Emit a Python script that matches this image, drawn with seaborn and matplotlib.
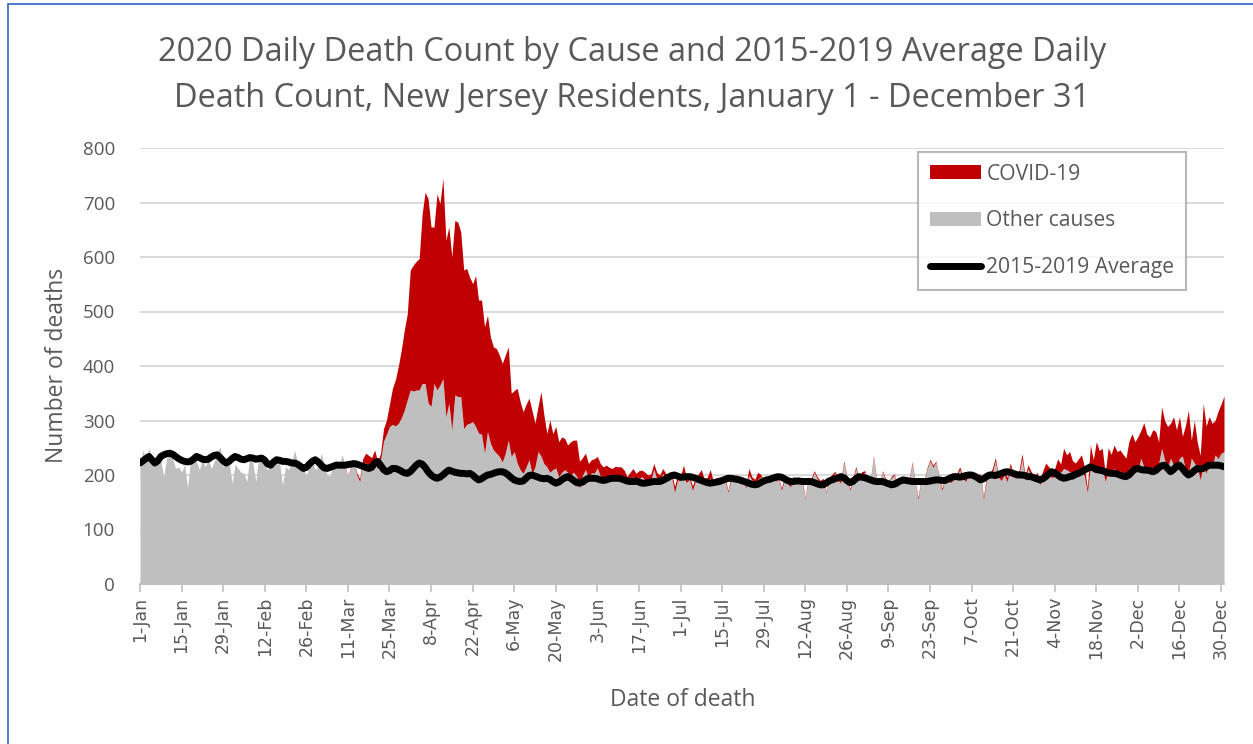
import numpy as np
import pandas as pd
import matplotlib
matplotlib.use("Agg")
import matplotlib.pyplot as plt
import seaborn as sns
from matplotlib.patches import Patch
from matplotlib.lines import Line2D

# ---------------- data ----------------
other_jan = [215, 246, 228, 249, 230, 222, 232, 225, 197, 232, 237, 230, 212, 215, 205, 220,
             176, 228, 237, 225, 210, 228, 215, 230, 212, 225, 240, 252, 215, 222, 225]
other_feb = [185, 220, 212, 205, 203, 188, 237, 222, 188, 235, 228, 215, 210, 218, 230, 220,
             222, 182, 215, 210, 220, 246, 225, 215, 212, 200, 215, 228, 210]
other_mar = [215, 240, 220, 200, 198, 222, 228, 215, 237, 218, 197, 215, 225, 200, 188, 222,
             222, 218, 215, 220, 212, 228, 262, 275, 289, 293, 290, 295, 305, 319, 338]
other_apr = [356, 354, 356, 356, 368, 368, 332, 326, 368, 356, 365, 377, 307, 332, 283, 347,
             344, 344, 285, 293, 295, 298, 289, 277, 275, 240, 280, 258, 246, 240]
other_may = [234, 224, 240, 264, 234, 243, 222, 210, 203, 215, 228, 203, 215, 243, 235, 221,
             215, 205, 210, 213, 197, 205, 210, 205, 200, 205, 198, 176, 200, 210, 195]
other_jun = [204, 204, 213, 198, 196, 196, 196, 192, 199, 196, 199, 191, 183, 189, 197, 190,
             193, 197, 191, 189, 189, 211, 193, 189, 203, 191, 190, 197, 168, 191]
other_jul = [190, 198, 186, 192, 172, 188, 193, 196, 185, 190, 194, 184, 188, 190, 186, 190,
             168, 192, 188, 195, 183, 189, 176, 200, 191, 187, 192, 197, 185, 190, 194]
other_aug = [196, 189, 192, 172, 190, 185, 178, 194, 188, 191, 186, 155, 192, 189, 205, 193,
             187, 190, 167, 191, 196, 204, 190, 185, 223, 194, 172, 187, 212, 192, 201]
other_sep = [205, 186, 193, 232, 188, 182, 206, 190, 184, 195, 200, 178, 188, 194, 186, 190,
             221, 188, 155, 192, 188, 210, 226, 214, 224, 196, 172, 190, 194, 186]
other_oct = [192, 200, 210, 195, 188, 201, 196, 193, 190, 199, 155, 190, 198, 205, 226, 196,
             190, 200, 188, 216, 197, 194, 202, 230, 190, 212, 198, 188, 195, 182, 200]
other_nov = [200, 203, 195, 198, 207, 205, 212, 210, 206, 200, 205, 212, 208, 198, 168, 215,
             205, 212, 210, 214, 188, 210, 205, 212, 206, 208, 203, 198, 212, 215]
other_dec = [212, 208, 231, 215, 205, 210, 208, 212, 222, 249, 228, 215, 231, 218, 213, 231,
             235, 210, 203, 231, 222, 215, 191, 222, 203, 226, 215, 237, 230, 240, 243]

covid_jan = [0, 0, 0, 0, 0, 0, 0, 0, 0, 0, 0, 0, 0, 0, 0, 0,
             0, 0, 0, 0, 0, 0, 0, 0, 0, 0, 0, 0, 0, 0, 0]
covid_feb = [0, 0, 0, 0, 0, 0, 0, 0, 0, 0, 0, 0, 0, 0, 0, 0,
             0, 0, 0, 0, 0, 0, 0, 0, 0, 0, 0, 0, 0]
covid_mar = [0, 0, 0, 0, 0, 0, 0, 0, 0, 1, 1, 2, 2, 4, 5, 8,
             18, 18, 17, 26, 13, 12, 23, 26, 41, 66, 85, 105, 125, 147, 158]
covid_apr = [220, 231, 236, 241, 311, 351, 375, 329, 287, 360, 333, 367, 324, 323, 317, 320,
             320, 302, 291, 286, 268, 253, 277, 244, 246, 232, 213, 195, 189, 192]
covid_may = [186, 181, 180, 171, 116, 112, 137, 125, 113, 115, 113, 115, 80, 82, 118, 89,
             61, 96, 66, 76, 64, 65, 57, 50, 61, 59, 66, 49, 32, 30, 26]
covid_jun = [24, 26, 21, 23, 19, 22, 18, 20, 17, 19, 16, 18, 14, 16, 15, 13,
             15, 12, 14, 11, 13, 10, 12, 11, 9, 12, 10, 8, 11, 9]
covid_jul = [8, 20, 9, 7, 8, 6, 9, 14, 7, 6, 16, 5, 7, 6, 8, 5,
             3, 6, 5, 6, 4, 7, 3, 12, 6, 5, 13, 4, 5, 4, 6]
covid_aug = [4, 5, 3, 4, 6, 3, 5, 4, 3, 5, 4, 3, 4, 5, 3, 4,
             3, 4, 2, 4, 5, 3, 4, 6, 3, 4, 3, 5, 4, 3, 5]
covid_sep = [3, 4, 2, 3, 4, 3, 2, 4, 3, 3, 2, 4, 3, 2, 4, 3,
             3, 2, 4, 3, 2, 3, 3, 4, 2, 3, 4, 3, 2, 4]
covid_oct = [4, 3, 5, 4, 6, 4, 5, 5, 6, 4, 5, 6, 5, 7, 6, 5,
             7, 6, 8, 6, 7, 8, 7, 9, 8, 7, 9, 8, 10, 9, 8]
covid_nov = [22, 12, 14, 14, 23, 15, 37, 27, 37, 26, 17, 18, 29, 17, 8, 40,
             23, 49, 35, 35, 15, 40, 33, 43, 37, 38, 35, 33, 50, 61]
covid_dec = [49, 62, 51, 81, 70, 60, 75, 68, 39, 76, 72, 74, 64, 89, 70, 76,
             36, 80, 116, 33, 78, 45, 45, 109, 87, 81, 80, 63, 87, 90, 102]

avg_jan = [222, 226, 230, 234, 228, 222, 226, 234, 237, 239, 240, 238, 234, 230, 227, 225,
           224, 225, 229, 234, 232, 229, 228, 229, 233, 236, 237, 232, 226, 222, 225]
avg_feb = [230, 234, 232, 229, 228, 230, 232, 231, 229, 230, 231, 227, 220, 218, 224, 228,
           227, 225, 225, 224, 222, 222, 220, 216, 212, 214, 220, 225, 228]
avg_mar = [224, 218, 213, 212, 214, 216, 218, 218, 218, 218, 219, 220, 221, 220, 218, 216,
           214, 212, 214, 222, 225, 218, 210, 206, 208, 212, 212, 210, 207, 204, 203]
avg_apr = [206, 212, 218, 222, 220, 214, 206, 200, 196, 194, 196, 200, 205, 209, 207, 205,
           204, 203, 203, 202, 203, 200, 195, 191, 193, 197, 200, 201, 203, 205]
avg_may = [206, 206, 204, 200, 195, 191, 189, 188, 189, 194, 199, 200, 198, 196, 194, 193,
           194, 192, 188, 185, 187, 191, 195, 197, 194, 190, 186, 185, 187, 191, 194]
avg_jun = [194, 194, 193, 191, 190, 191, 193, 194, 194, 194, 193, 191, 189, 188, 188, 189,
           187, 185, 185, 186, 187, 188, 188, 188, 190, 193, 196, 199, 200, 198]
avg_jul = [196, 196, 197, 197, 196, 194, 192, 190, 188, 186, 185, 186, 187, 188, 190, 192,
           194, 194, 193, 192, 191, 189, 187, 185, 183, 182, 183, 186, 189, 191, 192]
avg_aug = [194, 196, 197, 196, 193, 190, 188, 188, 189, 189, 188, 188, 188, 188, 186, 184,
           182, 182, 185, 189, 191, 193, 195, 197, 195, 190, 186, 188, 193, 197, 196]
avg_sep = [195, 193, 191, 189, 188, 188, 188, 186, 184, 182, 183, 186, 189, 191, 190, 189,
           188, 188, 188, 188, 188, 188, 189, 190, 191, 191, 190, 190, 192, 195]
avg_oct = [197, 197, 196, 197, 199, 200, 200, 198, 195, 191, 193, 197, 200, 200, 199, 201,
           203, 205, 206, 205, 203, 201, 200, 200, 199, 197, 197, 195, 193, 191, 193]
avg_nov = [197, 202, 206, 204, 200, 196, 194, 195, 197, 198, 201, 203, 206, 209, 212, 215,
           213, 210, 209, 208, 206, 204, 203, 203, 202, 200, 198, 197, 200, 206]
avg_dec = [211, 212, 210, 209, 209, 208, 206, 208, 213, 217, 218, 212, 206, 210, 216, 218,
           212, 205, 200, 203, 208, 212, 211, 212, 215, 218, 218, 218, 218, 217, 215]

tick_labels = ["1-Jan", "15-Jan", "29-Jan", "12-Feb", "26-Feb", "11-Mar", "25-Mar", "8-Apr",
               "22-Apr", "6-May", "20-May", "3-Jun", "17-Jun", "1-Jul", "15-Jul", "29-Jul",
               "12-Aug", "26-Aug", "9-Sep", "23-Sep", "7-Oct", "21-Oct", "4-Nov", "18-Nov",
               "2-Dec", "16-Dec", "30-Dec"]

series_names = ["COVID-19", "Other causes", "2015-2019 Average"]
title = ("2020 Daily Death Count by Cause and 2015-2019 Average Daily\n"
         "Death Count, New Jersey Residents, January 1 - December 31")

# ---------------- assemble ----------------
other = sum([other_jan, other_feb, other_mar, other_apr, other_may, other_jun, other_jul,
             other_aug, other_sep, other_oct, other_nov, other_dec], [])
covid = sum([covid_jan, covid_feb, covid_mar, covid_apr, covid_may, covid_jun, covid_jul,
             covid_aug, covid_sep, covid_oct, covid_nov, covid_dec], [])
avg = sum([avg_jan, avg_feb, avg_mar, avg_apr, avg_may, avg_jun, avg_jul, avg_aug, avg_sep,
           avg_oct, avg_nov, avg_dec], [])

start = pd.Timestamp("2020-01-01")
dates = pd.date_range(start, periods=len(other), freq="D")
df = pd.DataFrame({"day": (dates - start).days, "other": other, "covid": covid, "avg": avg})
df["total"] = df["other"] + df["covid"]
tick_pos = [(pd.Timestamp(f"{lab}-2020") - start).days for lab in tick_labels]

# ---------------- style ----------------
sns.set_theme(style="white")
FONT = ["Open Sans", "DejaVu Sans"]
plt.rcParams["font.family"] = FONT
TXT = "#595959"
RED = "#C00000"
GRAY = "#BFBFBF"

W, H = 1253, 744
fig = plt.figure(figsize=(W / 100, H / 100), dpi=100)
fig.patch.set_facecolor("white")
ax = fig.add_axes([140 / W, 1 - 584 / H, (1224 - 140) / W, (584 - 148) / H])

ax.fill_between(df["day"], 0, df["other"], color=GRAY, lw=0, zorder=2)
ax.fill_between(df["day"], df["other"], df["total"], color=RED, lw=0, zorder=2)
sns.lineplot(data=df, x="day", y="avg", color="black", lw=5.0, ax=ax, zorder=4,
             solid_capstyle="round")

ax.set_xlim(0, 365)
ax.set_ylim(0, 800)
ax.set_yticks(range(0, 801, 100))
ax.yaxis.grid(True, color="#D9D9D9", lw=1.4, zorder=0)
ax.set_axisbelow(True)
for s in ["top", "right", "left"]:
    ax.spines[s].set_visible(False)
ax.spines["bottom"].set_color("#BFBFBF")
ax.spines["bottom"].set_linewidth(1.4)
ax.spines["bottom"].set_zorder(5)

ax.set_xticks(tick_pos)
ax.set_xticklabels(tick_labels, rotation=90, fontsize=12.5, color=TXT,
                   family=["DejaVu Sans"])
ax.tick_params(axis="x", length=6, width=1.2, color="#BFBFBF", pad=3, direction="out",
               bottom=True)
ax.tick_params(axis="y", length=0, pad=18, labelsize=13.5, labelcolor=TXT)
ax.set_xlabel("")
ax.set_ylabel("")

fig.text(632 / W, 1 - 75.5 / H, title, ha="center", va="center", fontsize=23.4, color=TXT,
         linespacing=1.5)
fig.text(57 / W, 1 - 365 / H, "Number of deaths", rotation=90, ha="center", va="center",
         fontsize=16.5, color=TXT)
fig.text(683 / W, 1 - 700 / H, "Date of death", ha="center", va="center", fontsize=16.5,
         color=TXT)

handles = [Patch(facecolor=RED, edgecolor="none"),
           Patch(facecolor=GRAY, edgecolor="none"),
           Line2D([0], [0], color="black", lw=5.0, solid_capstyle="round")]
leg = ax.legend(handles, series_names, loc="upper left",
                bbox_to_anchor=(918 / W, 1 - 152 / H), bbox_transform=fig.transFigure,
                borderaxespad=0, frameon=True, fancybox=False, fontsize=15.2,
                handlelength=2.45, handleheight=0.66, handletextpad=0.24, labelspacing=1.22,
                borderpad=0.55, labelcolor=TXT)
leg.get_frame().set_edgecolor("#A6A6A6")
leg.get_frame().set_linewidth(1.5)

# document frame lines (left and top)
fig.add_artist(Line2D([8 / W, 8 / W], [0, 1 - 4 / H], transform=fig.transFigure,
                      color="#4472C4", lw=1.3))
fig.add_artist(Line2D([8 / W, 1], [1 - 4 / H, 1 - 4 / H], transform=fig.transFigure,
                      color="#4472C4", lw=1.3))

fig.savefig("out.png", dpi=100)
